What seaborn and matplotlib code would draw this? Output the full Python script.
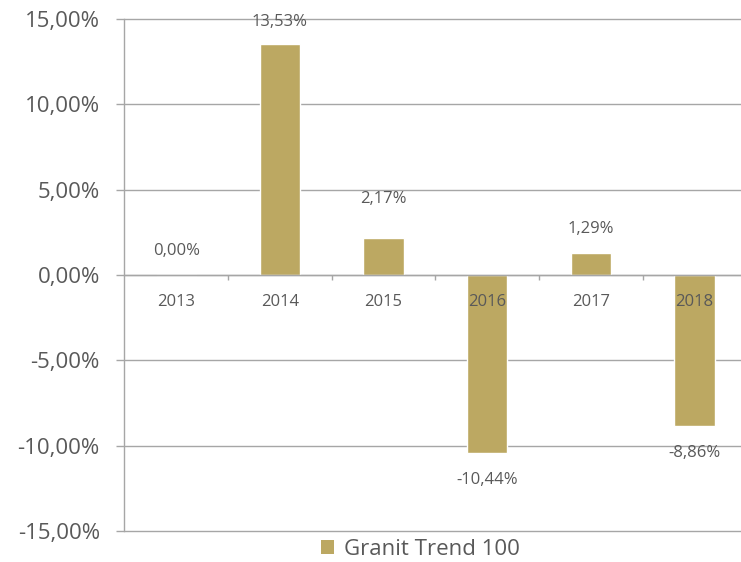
import matplotlib
matplotlib.use("Agg")
import matplotlib.pyplot as plt
from matplotlib.ticker import FuncFormatter, FixedLocator
from matplotlib.patches import Patch
import numpy as np
import pandas as pd
import seaborn as sns

# === data ===
YEARS = ["2013", "2014", "2015", "2016", "2017", "2018"]
RETURNS = [0.00, 13.53, 2.17, -10.44, 1.29, -8.86]
SERIES_NAME = "Granit Trend 100"

# === style ===
BAR_COLOR = "#BCA862"
TEXT_COLOR = "#595959"
LINE_COLOR = "#A6A6A6"
FONT = ["Open Sans", "DejaVu Sans"]
# label offsets in points (Excel puts the 2015 label a bit higher)
LABEL_OFFSETS = [17, 16, 28, -19, 17, -19]


def pct(v, pos=None):
    return f"{v:.2f}%".replace(".", ",")


def draw():
    sns.set_style("white")
    plt.rcParams["font.family"] = FONT

    df = pd.DataFrame({"year": YEARS, "ret": RETURNS})

    fig = plt.figure(figsize=(7.41, 5.62), dpi=100)
    ax = fig.add_axes([0.168, 0.0552, 0.839, 0.911])

    sns.barplot(data=df, x="year", y="ret", color=BAR_COLOR, width=0.39,
                saturation=1, ax=ax, zorder=2)

    ax.set_ylim(-15, 15)
    ax.set_xlim(-0.5, len(YEARS) - 0.5)
    yticks = np.arange(-15, 15.1, 5)
    ax.set_yticks(yticks)
    ax.yaxis.set_major_formatter(FuncFormatter(pct))

    # gridlines behind the bars
    for t in yticks:
        ax.axhline(t, color=LINE_COLOR, lw=1.0, zorder=0.5, clip_on=False)

    ax.set_axisbelow(False)
    ax.grid(False)
    for s in ["top", "right"]:
        ax.spines[s].set_visible(False)
    ax.spines["left"].set_color(LINE_COLOR)
    ax.spines["left"].set_linewidth(1.0)
    ax.spines["bottom"].set_position(("data", 0))
    ax.spines["bottom"].set_color(LINE_COLOR)
    ax.spines["bottom"].set_linewidth(1.0)

    ax.set_xlabel("")
    ax.set_ylabel("")

    ax.tick_params(axis="y", direction="out", length=5.8, width=1.0, color=LINE_COLOR,
                   pad=12, labelsize=16, labelcolor=TEXT_COLOR, left=True)
    ax.tick_params(axis="x", which="major", length=0, pad=14, labelsize=12,
                   labelcolor=TEXT_COLOR, bottom=True)
    ax.xaxis.set_minor_locator(FixedLocator(np.arange(0.5, len(YEARS) - 1, 1.0)))
    ax.tick_params(axis="x", which="minor", direction="out", length=3.8, width=1.0,
                   color=LINE_COLOR, bottom=True)
    for lab in ax.get_xticklabels():
        lab.set_zorder(5)

    # value labels
    for i, (v, off) in enumerate(zip(RETURNS, LABEL_OFFSETS)):
        ax.annotate(pct(v), (i, v), xytext=(0, off), textcoords="offset points",
                    ha="center", va="center", fontsize=12, color=TEXT_COLOR)

    handle = Patch(facecolor=BAR_COLOR, edgecolor="none")
    fig.legend([handle], [SERIES_NAME], loc="center", bbox_to_anchor=(0.567, 0.023),
               frameon=False, fontsize=16, handlelength=0.6, handleheight=0.6,
               handletextpad=0.45, labelcolor=TEXT_COLOR)

    fig.savefig("out.png", dpi=100)


if __name__ == "__main__":
    draw()
